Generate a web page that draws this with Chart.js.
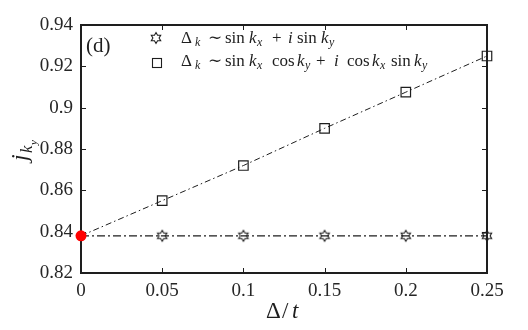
<!DOCTYPE html>
<html>
<head>
<meta charset="utf-8">
<script src="https://cdn.jsdelivr.net/npm/chart.js@4.4.0/dist/chart.umd.min.js"></script>
<style>
  html, body { margin: 0; padding: 0; background: #fff; }
  .chart-box { width: 528px; height: 330px; }
</style>
</head>
<body>
<div class="chart-box"><canvas id="gap-chart"></canvas></div>
<script>
// Data
const deltaValues = [0, 0.05, 0.1, 0.15, 0.2, 0.25];
const sinSinValues = [0.838, 0.838, 0.838, 0.838, 0.838, 0.838];
const sinCosValues = [0.838, 0.855, 0.872, 0.89, 0.9075, 0.925];
const startPoint = [{ x: 0, y: 0.838 }];
const xTickValues = [0, 0.05, 0.1, 0.15, 0.2, 0.25];
const yTickValues = [0.82, 0.84, 0.86, 0.88, 0.9, 0.92, 0.94];
// End Data

const serif = '"Liberation Serif", "DejaVu Serif", serif';
const ink = "#1e1e1e";

// Hexagram marker
const makeHexagram = () => {
  const c = document.createElement("canvas");
  c.width = 14;
  c.height = 14;
  const ctx = c.getContext("2d");
  ctx.strokeStyle = ink;
  ctx.lineWidth = 1.1;
  ctx.beginPath();
  for (let i = 0; i < 12; i++) {
    const r = i % 2 === 0 ? 5.4 : 3.1;
    const a = -Math.PI / 2 + (i * Math.PI) / 6;
    const px = 7 + r * Math.cos(a);
    const py = 7 + r * Math.sin(a);
    if (i === 0) ctx.moveTo(px, py);
    else ctx.lineTo(px, py);
  }
  ctx.closePath();
  ctx.stroke();
  return c;
};
const hexagram = makeHexagram();

// Text runs, each placed at its own x offset (sub = subscript)
const drawRuns = (ctx, runs, x, y, size) => {
  runs.forEach((run) => {
    const s = run.sub ? size * 0.7 : size;
    const dy = run.sub ? size * 0.2 : 0;
    ctx.font = `${run.i ? "italic " : ""}${s}px ${serif}`;
    ctx.fillText(run.t, x + run.x, y + dy);
  });
};

const legendLines = [
  [
    { t: "Δ", x: 0 }, { t: "k", x: 14, i: true, sub: 1 }, { t: "∼", x: 27 },
    { t: "sin", x: 44 }, { t: "k", x: 68, i: true }, { t: "x", x: 76, i: true, sub: 1 },
    { t: "+", x: 91 }, { t: "i", x: 107, i: true }, { t: "sin", x: 116 },
    { t: "k", x: 140, i: true }, { t: "y", x: 148, i: true, sub: 1 },
  ],
  [
    { t: "Δ", x: 0 }, { t: "k", x: 14, i: true, sub: 1 }, { t: "∼", x: 27 },
    { t: "sin", x: 44 }, { t: "k", x: 68, i: true }, { t: "x", x: 76, i: true, sub: 1 },
    { t: "cos", x: 91 }, { t: "k", x: 116, i: true }, { t: "y", x: 124, i: true, sub: 1 },
    { t: "+", x: 135 }, { t: "i", x: 153, i: true }, { t: "cos", x: 166 },
    { t: "k", x: 191, i: true }, { t: "x", x: 199, i: true, sub: 1 }, { t: "sin", x: 210 },
    { t: "k", x: 233, i: true }, { t: "y", x: 241, i: true, sub: 1 },
  ],
];

// Box, inner ticks, titles, legend
const framePlugin = {
  id: "frame",
  beforeDatasetsDraw(chart) {
    const { ctx, chartArea: a, scales } = chart;
    ctx.save();
    ctx.strokeStyle = ink;
    ctx.lineWidth = 1;
    ctx.beginPath();
    xTickValues.forEach((v) => {
      const px = Math.round(scales.x.getPixelForValue(v)) + 0.5;
      ctx.moveTo(px, a.bottom);
      ctx.lineTo(px, a.bottom - 5);
      ctx.moveTo(px, a.top);
      ctx.lineTo(px, a.top + 5);
    });
    yTickValues.forEach((v) => {
      const py = Math.round(scales.y.getPixelForValue(v)) + 0.5;
      ctx.moveTo(a.left, py);
      ctx.lineTo(a.left + 5, py);
      ctx.moveTo(a.right, py);
      ctx.lineTo(a.right - 5, py);
    });
    ctx.stroke();
    ctx.lineWidth = 2;
    ctx.strokeRect(a.left, a.top, a.right - a.left, a.bottom - a.top);
    ctx.restore();
  },
  afterDraw(chart) {
    const { ctx, chartArea: a } = chart;
    ctx.save();
    ctx.fillStyle = ink;
    ctx.textBaseline = "alphabetic";

    // (d)
    ctx.font = `21px ${serif}`;
    ctx.fillText("(d)", a.left + 5, a.top + 27);

    // legend
    ctx.drawImage(hexagram, 156 - 7, 38 - 7);
    ctx.strokeStyle = ink;
    ctx.lineWidth = 1.1;
    ctx.strokeRect(152.5, 58.5, 9, 9);
    drawRuns(ctx, legendLines[0], 181, 43, 17);
    drawRuns(ctx, legendLines[1], 181, 66, 17);

    // x title
    drawRuns(ctx, [{ t: "Δ", x: 0 }, { t: "/", x: 16 }, { t: "t", x: 26, i: true }], 266, 318, 23);

    // y title
    ctx.translate(27, (a.top + a.bottom) / 2);
    ctx.rotate(-Math.PI / 2);
    drawRuns(ctx, [{ t: "j", x: -12, i: true }, { t: "k", x: -4, i: true, sub: 1 }], 0, 0, 24);
    ctx.font = `italic 11px ${serif}`;
    ctx.fillText("y", 4, 10);
    ctx.restore();
  },
};

const tickLabel = (value) => String(Number(value.toFixed(2)));

const gapChartElement = document.querySelector("#gap-chart");
if (gapChartElement) {
  new Chart(gapChartElement, {
    type: "line",
    data: {
      datasets: [
        {
          label: "start",
          data: startPoint,
          showLine: false,
          pointStyle: "circle",
          pointRadius: 5.5,
          pointBackgroundColor: "#ff0000",
          pointBorderColor: "#ff0000",
          pointBorderWidth: 0,
          order: 0,
          clip: false,
        },
        {
          label: "sin kx + i sin ky",
          data: deltaValues.map((x, i) => ({ x: x, y: sinSinValues[i] })),
          borderColor: ink,
          borderWidth: 1.2,
          borderDash: [8, 3, 2, 3],
          pointStyle: hexagram,
          pointRadius: deltaValues.map((x, i) => (i === 0 ? 0 : 5)),
          order: 2,
          clip: false,
        },
        {
          label: "sin kx cos ky + i cos kx sin ky",
          data: deltaValues.map((x, i) => ({ x: x, y: sinCosValues[i] })),
          borderColor: ink,
          borderWidth: 1,
          borderDash: [6, 3, 1.5, 3],
          pointStyle: "rect",
          pointRadius: deltaValues.map((x, i) => (i === 0 ? 0 : 6.7)),
          pointBorderWidth: 1.2,
          pointBorderColor: ink,
          pointBackgroundColor: "rgba(0,0,0,0)",
          order: 1,
          clip: false,
        },
      ],
    },
    plugins: [framePlugin],
    options: {
      responsive: true,
      maintainAspectRatio: false,
      animation: false,
      events: [],
      layout: { padding: { left: 0, top: 25, right: 41, bottom: 0 } },
      plugins: { legend: { display: false }, tooltip: { enabled: false } },
      elements: { line: { tension: 0, fill: false } },
      scales: {
        x: {
          type: "linear",
          min: 0,
          max: 0.25,
          afterBuildTicks: (scale) => {
            scale.ticks = xTickValues.map((v) => ({ value: v }));
          },
          afterFit: (scale) => {
            scale.height = 57;
          },
          grid: { display: false, drawTicks: false },
          border: { display: false },
          ticks: {
            padding: 7,
            color: "#262626",
            font: { family: serif, size: 19 },
            maxRotation: 0,
            callback: tickLabel,
          },
        },
        y: {
          type: "linear",
          min: 0.82,
          max: 0.94,
          afterBuildTicks: (scale) => {
            scale.ticks = yTickValues.map((v) => ({ value: v }));
          },
          afterFit: (scale) => {
            scale.width = 81;
          },
          grid: { display: false, drawTicks: false },
          border: { display: false },
          ticks: {
            padding: 8,
            color: "#262626",
            font: { family: serif, size: 19 },
            callback: tickLabel,
          },
        },
      },
    },
  });
}
</script>
</body>
</html>
